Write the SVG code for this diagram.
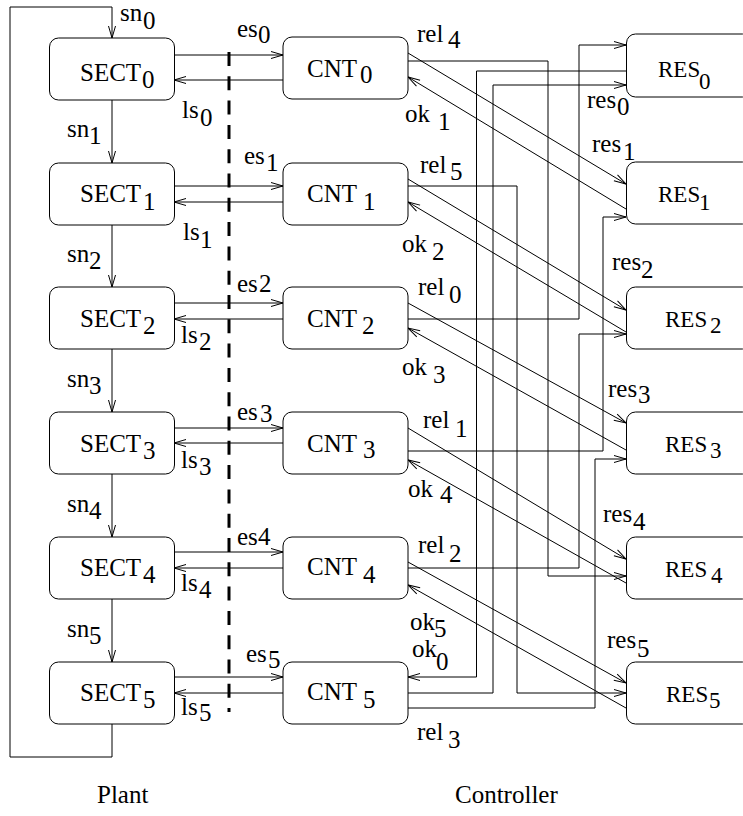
<svg xmlns="http://www.w3.org/2000/svg" width="743" height="816" viewBox="0 0 743 816">
<style>
.box{fill:#fff;stroke:#000;stroke-width:1}
.ln{fill:none;stroke:#000;stroke-width:1}
.a{marker-end:url(#ah)}
.dash{fill:none;stroke:#000;stroke-width:3;stroke-dasharray:14 10.3}
text{font-family:"Liberation Serif","Times New Roman",serif;font-size:25px;fill:#000}
.res text{font-size:23px}
</style>
<defs>
<marker id="ah" viewBox="-13 -5 14 10" refX="0" refY="0" markerWidth="14" markerHeight="10" markerUnits="userSpaceOnUse" orient="auto">
<path d="M-12,-3.5 L0,0 L-12,3.5" fill="none" stroke="#000" stroke-width="1"/>
</marker>
</defs>
<rect width="743" height="816" fill="#fff"/>
<g id="connectors">
<path class="ln a" d="M112,724 V757 H10 V7 H112 V38"/>
<path class="ln a" d="M112,100 V163"/>
<path class="ln a" d="M112,225 V287"/>
<path class="ln a" d="M112,349 V412"/>
<path class="ln a" d="M112,474 V537"/>
<path class="ln a" d="M112,599 V662"/>
<path class="ln a" d="M174,55 H283"/>
<path class="ln a" d="M283,80 H174"/>
<path class="ln a" d="M174,186 H283"/>
<path class="ln a" d="M283,202 H174"/>
<path class="ln a" d="M174,303 H283"/>
<path class="ln a" d="M283,319 H174"/>
<path class="ln a" d="M174,428 H283"/>
<path class="ln a" d="M283,443 H174"/>
<path class="ln a" d="M174,552 H283"/>
<path class="ln a" d="M283,568 H174"/>
<path class="ln a" d="M174,677 H283"/>
<path class="ln a" d="M283,693 H174"/>
<path class="dash" d="M229,52 V712"/>
<path class="ln a" d="M408,53 L626,184"/>
<path class="ln a" d="M626,209 L408,77"/>
<path class="ln a" d="M408,179 L626,310"/>
<path class="ln a" d="M626,332 L408,202"/>
<path class="ln a" d="M408,303 L626,423"/>
<path class="ln a" d="M626,450 L408,328"/>
<path class="ln a" d="M408,428 L626,559"/>
<path class="ln a" d="M626,583 L408,460"/>
<path class="ln a" d="M408,562 L626,683"/>
<path class="ln a" d="M626,708 L408,585"/>
<path class="ln a" d="M408,693 H493 V85 H626"/>
<path class="ln a" d="M626,71 H476.5 V677 H408"/>
<path class="ln a" d="M408,61 H548 V576 H626"/>
<path class="ln a" d="M408,186 H517 V693 H626"/>
<path class="ln a" d="M408,319 H579 V45 H626"/>
<path class="ln a" d="M408,451 H603 V217 H626"/>
<path class="ln a" d="M408,568 H579 V334 H626"/>
<path class="ln a" d="M408,708 H595 V459 H626"/>
</g>
<g id="labels">
<text x="120" y="21">sn<tspan x="143" y="29">0</tspan></text>
<text x="67" y="137">sn<tspan x="89" y="144">1</tspan></text>
<text x="67" y="262">sn<tspan x="89" y="269">2</tspan></text>
<text x="67" y="387">sn<tspan x="89" y="394">3</tspan></text>
<text x="67" y="512">sn<tspan x="89" y="519">4</tspan></text>
<text x="67" y="637">sn<tspan x="89" y="644">5</tspan></text>
<text x="182" y="118">ls<tspan x="200" y="126">0</tspan></text>
<text x="183" y="240">ls<tspan x="200" y="248">1</tspan></text>
<text x="181" y="343">ls<tspan x="199" y="350">2</tspan></text>
<text x="181" y="468">ls<tspan x="199" y="475">3</tspan></text>
<text x="181" y="591">ls<tspan x="199" y="598">4</tspan></text>
<text x="181" y="715">ls<tspan x="199" y="721">5</tspan></text>
<text x="237" y="37">es<tspan x="258" y="43">0</tspan></text>
<text x="244" y="164">es<tspan x="266" y="171">1</tspan></text>
<text x="237" y="292">es<tspan x="259" y="292">2</tspan></text>
<text x="237" y="420">es<tspan x="260" y="422">3</tspan></text>
<text x="237" y="545">es<tspan x="258" y="545">4</tspan></text>
<text x="246" y="662">es<tspan x="268" y="668">5</tspan></text>
<text x="417" y="42">rel<tspan x="448" y="48">4</tspan></text>
<text x="420" y="173">rel<tspan x="450" y="180">5</tspan></text>
<text x="418" y="295">rel<tspan x="449" y="303">0</tspan></text>
<text x="423" y="428">rel<tspan x="455" y="437">1</tspan></text>
<text x="418" y="553">rel<tspan x="449" y="562">2</tspan></text>
<text x="417" y="740">rel<tspan x="448" y="748">3</tspan></text>
<text x="405" y="122">ok<tspan x="438" y="130">1</tspan></text>
<text x="402" y="252">ok<tspan x="432" y="260">2</tspan></text>
<text x="402" y="375">ok<tspan x="433" y="383">3</tspan></text>
<text x="408" y="497">ok<tspan x="440" y="503">4</tspan></text>
<text x="410" y="630">ok<tspan x="434" y="637">5</tspan></text>
<text x="412" y="657">ok<tspan x="436" y="670">0</tspan></text>
<text x="587" y="108">res<tspan x="617" y="115">0</tspan></text>
<text x="592" y="152">res<tspan x="623" y="160">1</tspan></text>
<text x="612" y="270">res<tspan x="641" y="278">2</tspan></text>
<text x="608" y="397">res<tspan x="638" y="403">3</tspan></text>
<text x="603" y="522">res<tspan x="633" y="530">4</tspan></text>
<text x="607" y="648">res<tspan x="637" y="657">5</tspan></text>
<text x="97" y="803">Plant</text>
<text x="455" y="803">Controller</text>
</g>
<g id="SECT0"><rect class="box" x="49.5" y="38" width="125" height="62" rx="9"/><text x="80" y="81">SECT<tspan x="142" y="88">0</tspan></text></g>
<g id="SECT1"><rect class="box" x="49.5" y="163" width="125" height="62" rx="9"/><text x="80" y="202">SECT<tspan x="143" y="210">1</tspan></text></g>
<g id="SECT2"><rect class="box" x="49.5" y="287" width="125" height="62" rx="9"/><text x="80" y="327">SECT<tspan x="143" y="334">2</tspan></text></g>
<g id="SECT3"><rect class="box" x="49.5" y="412" width="125" height="62" rx="9"/><text x="80" y="452">SECT<tspan x="143" y="459">3</tspan></text></g>
<g id="SECT4"><rect class="box" x="49.5" y="537" width="125" height="62" rx="9"/><text x="80" y="576">SECT<tspan x="143" y="583">4</tspan></text></g>
<g id="SECT5"><rect class="box" x="49.5" y="662" width="125" height="62" rx="9"/><text x="80" y="701">SECT<tspan x="143" y="708">5</tspan></text></g>
<g id="CNT0"><rect class="box" x="283" y="37" width="125" height="62" rx="9"/><text x="307" y="77">CNT<tspan x="360" y="83">0</tspan></text></g>
<g id="CNT1"><rect class="box" x="283" y="163" width="125" height="62" rx="9"/><text x="307" y="202">CNT<tspan x="363" y="210">1</tspan></text></g>
<g id="CNT2"><rect class="box" x="283" y="287" width="125" height="62" rx="9"/><text x="307" y="327">CNT<tspan x="362" y="334">2</tspan></text></g>
<g id="CNT3"><rect class="box" x="283" y="412" width="125" height="62" rx="9"/><text x="307" y="452">CNT<tspan x="363" y="458">3</tspan></text></g>
<g id="CNT4"><rect class="box" x="283" y="537" width="125" height="62" rx="9"/><text x="307" y="575">CNT<tspan x="363" y="583">4</tspan></text></g>
<g id="CNT5"><rect class="box" x="283" y="662" width="125" height="62" rx="9"/><text x="307" y="700">CNT<tspan x="363" y="708">5</tspan></text></g>
<g class="res">
<g id="RES0"><rect class="box" x="626.5" y="34" width="125" height="63" rx="9"/><text x="658" y="77">RES<tspan x="699" y="89">0</tspan></text></g>
<g id="RES1"><rect class="box" x="626.5" y="162" width="125" height="62" rx="9"/><text x="658" y="202">RES<tspan x="699" y="210">1</tspan></text></g>
<g id="RES2"><rect class="box" x="626.5" y="287" width="125" height="62" rx="9"/><text x="665" y="327">RES<tspan x="710" y="333">2</tspan></text></g>
<g id="RES3"><rect class="box" x="626.5" y="412" width="125" height="62" rx="9"/><text x="665" y="452">RES<tspan x="710" y="458">3</tspan></text></g>
<g id="RES4"><rect class="box" x="626.5" y="537" width="125" height="62" rx="9"/><text x="665" y="577">RES<tspan x="711" y="583">4</tspan></text></g>
<g id="RES5"><rect class="box" x="626.5" y="662" width="125" height="62" rx="9"/><text x="666" y="702">RES<tspan x="709" y="708">5</tspan></text></g>
</g>
</svg>
